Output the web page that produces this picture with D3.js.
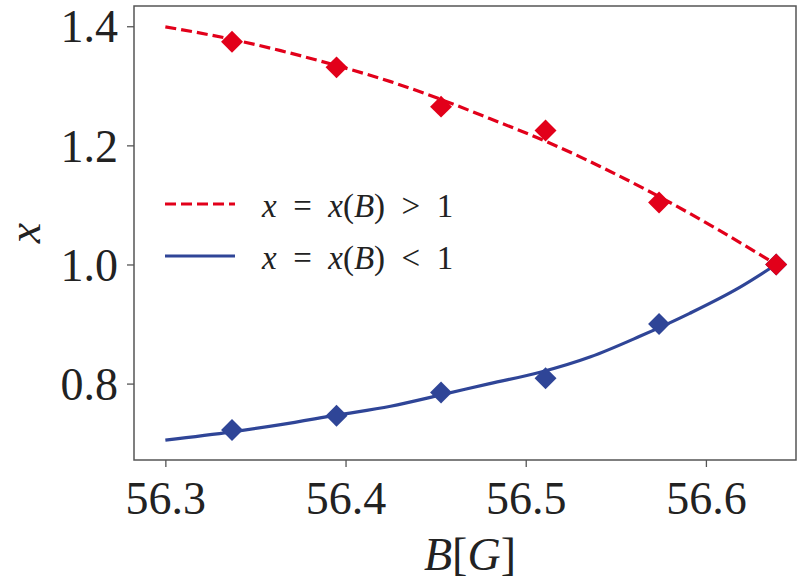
<!DOCTYPE html>
<html>
<head>
<meta charset="utf-8">
<script src="https://cdn.jsdelivr.net/npm/d3@7"></script>
<style>
  body { margin: 0; background: #fff; }
  svg { display: block; }
  text { font-family: "Liberation Serif", "DejaVu Serif", serif; fill: #222; }
</style>
</head>
<body>
<svg width="799" height="585"></svg>
<script>
'use strict';

// measured points (diamonds)
var pointB = [56.337, 56.395, 56.453, 56.511, 56.574, 56.639];
var upperX = [1.374, 1.331, 1.265, 1.225, 1.104, 1.0];
var lowerX = [0.722, 0.746, 0.785, 0.809, 0.900, 1.0];

// fitted curves
var upperB = [56.300, 56.337, 56.364, 56.395, 56.425, 56.453, 56.480, 56.511, 56.541, 56.574, 56.607, 56.639];
var upperCurve = [1.399, 1.378, 1.359, 1.334, 1.307, 1.277, 1.245, 1.207, 1.165, 1.114, 1.058, 1.0];
var lowerB = [56.300, 56.337, 56.364, 56.395, 56.425, 56.453, 56.480, 56.508, 56.536, 56.563, 56.591, 56.619, 56.639];
var lowerCurve = [0.705, 0.719, 0.731, 0.747, 0.762, 0.781, 0.800, 0.819, 0.845, 0.879, 0.918, 0.962, 1.0];

var xTicks = [56.3, 56.4, 56.5, 56.6];
var yTicks = [0.8, 1.0, 1.2, 1.4];

var red = '#e2001a';
var blue = '#2f4597';

var svg = d3.select('svg');
var plotLeft = 134, plotRight = 796, plotTop = 6, plotBottom = 460;

var x = d3.scaleLinear().domain([56.2826, 56.65]).range([plotLeft, plotRight]);
var y = d3.scaleLinear().domain([0.6717, 1.434]).range([plotBottom, plotTop]);

var upper = upperB.map(function (b, i) { return [b, upperCurve[i]]; });
var lower = lowerB.map(function (b, i) { return [b, lowerCurve[i]]; });

var line = d3.line()
  .x(function (d) { return x(d[0]); })
  .y(function (d) { return y(d[1]); })
  .curve(d3.curveMonotoneX);

svg.append('path')
  .datum(upper)
  .attr('d', line)
  .attr('fill', 'none')
  .attr('stroke', red)
  .attr('stroke-width', 3.2)
  .attr('stroke-dasharray', '11,5');

svg.append('path')
  .datum(lower)
  .attr('d', line)
  .attr('fill', 'none')
  .attr('stroke', blue)
  .attr('stroke-width', 3.2);

var diamond = d3.symbol().type(d3.symbolSquare).size(240);

svg.append('g')
  .selectAll('path')
  .data(pointB)
  .enter()
  .append('path')
  .attr('d', diamond)
  .attr('fill', blue)
  .attr('transform', function (d, i) {
    return 'translate(' + x(d) + ',' + y(lowerX[i]) + ') rotate(45)';
  });

svg.append('g')
  .selectAll('path')
  .data(pointB)
  .enter()
  .append('path')
  .attr('d', diamond)
  .attr('fill', red)
  .attr('transform', function (d, i) {
    return 'translate(' + x(d) + ',' + y(upperX[i]) + ') rotate(45)';
  });

// frame
svg.append('rect')
  .attr('x', plotLeft).attr('y', plotTop)
  .attr('width', plotRight - plotLeft).attr('height', plotBottom - plotTop)
  .attr('fill', 'none')
  .attr('stroke', '#555')
  .attr('stroke-width', 1.5);

// axes
var xAxis = svg.append('g')
  .attr('transform', 'translate(0,' + plotBottom + ')')
  .call(d3.axisBottom(x).tickValues(xTicks).tickSize(7).tickPadding(14)
    .tickFormat(d3.format('.1f')));
var yAxis = svg.append('g')
  .attr('transform', 'translate(' + plotLeft + ',0)')
  .call(d3.axisLeft(y).tickValues(yTicks).tickSize(7).tickPadding(9)
    .tickFormat(d3.format('.1f')));

[xAxis, yAxis].forEach(function (g) {
  g.attr('font-family', null);
  g.select('.domain').remove();
  g.selectAll('.tick line').attr('stroke', '#555').attr('stroke-width', 1.3);
  g.selectAll('.tick text')
    .style('font-family', '"Liberation Serif", serif')
    .attr('font-size', 46)
    .attr('fill', '#222');
});
yAxis.selectAll('.tick text').attr('dy', '0.34em');

// axis labels
svg.append('text')
  .attr('x', 470).attr('y', 570)
  .attr('text-anchor', 'middle')
  .attr('font-size', 46)
  .html('<tspan font-style="italic">B</tspan>[<tspan font-style="italic">G</tspan>]');

svg.append('text')
  .attr('transform', 'translate(40,233) rotate(-90)')
  .attr('text-anchor', 'middle')
  .attr('font-size', 46)
  .attr('font-style', 'italic')
  .text('x');

// legend
var legend = [
  { color: red, dash: '11,5', sign: '>' },
  { color: blue, dash: null, sign: '<' }
];
var lg = svg.append('g');
legend.forEach(function (d, i) {
  var ly = 204 + i * 52;
  lg.append('line')
    .attr('x1', 165).attr('x2', 235)
    .attr('y1', ly).attr('y2', ly)
    .attr('stroke', d.color)
    .attr('stroke-width', 3.2)
    .attr('stroke-dasharray', d.dash);
  lg.append('text')
    .attr('x', 262).attr('y', ly + 13)
    .attr('font-size', 33)
    .html('<tspan font-style="italic">x</tspan>\u2002=\u2002<tspan font-style="italic">x</tspan>(<tspan font-style="italic">B</tspan>)\u2002' +
      (d.sign === '>' ? '&gt;' : '&lt;') + '\u20021');
});
</script>
</body>
</html>
